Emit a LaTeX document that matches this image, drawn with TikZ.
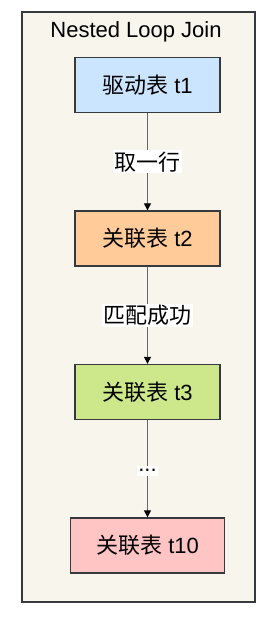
\documentclass[tikz,border=0pt]{standalone}
\usepackage{fontspec}
\setmainfont{Liberation Sans}
\newfontfamily\cjk{Noto Sans CJK SC}
\usetikzlibrary{arrows.meta}
\definecolor{framefill}{HTML}{F7F5EC}
\definecolor{framedraw}{HTML}{36393D}
\definecolor{cblue}{HTML}{CCE5FF}
\definecolor{corange}{HTML}{FFCC99}
\definecolor{cgreen}{HTML}{CDE88A}
\definecolor{cpink}{HTML}{FFC4C4}
\definecolor{edgegray}{HTML}{666666}
\begin{document}
\begin{tikzpicture}[x=1pt,y=1pt,
  tbox/.style={draw=framedraw, line width=1.3pt, minimum height=55pt, minimum width=145pt, inner sep=0pt, font=\fontsize{22}{25}\selectfont},
  elabel/.style={fill=white, inner sep=1.5pt, font=\fontsize{22}{25}\selectfont},
  conn/.style={draw=edgegray, line width=1pt, -{Triangle[length=7pt,width=7pt,fill=black,color=black]}}
]
\useasboundingbox (0,0) rectangle (272,-618);
\node[draw=framedraw, fill=framefill, line width=1.6pt, minimum width=233pt, minimum height=590pt, inner sep=0pt] (frame) at (138.5,-307) {};
\node[font=\fontsize{22}{25}\selectfont] (title) at (136,-32) {Nested Loop Join};
\node[tbox, fill=cblue] (t1) at (147.5,-85) {{\cjk 驱动表} t1};
\node[tbox, fill=corange] (t2) at (147.5,-238.5) {{\cjk 关联表} t2};
\node[tbox, fill=cgreen] (t3) at (147.5,-392) {{\cjk 关联表} t3};
\node[tbox, fill=cpink, minimum width=154pt] (t10) at (147.5,-545.5) {{\cjk 关联表} t10};
\draw[conn] (t1) -- node[elabel] (l1) {\cjk 取一行} (t2);
\draw[conn] (t2) -- node[elabel] (l2) {\cjk 匹配成功} (t3);
\draw[conn] (t3) -- node[elabel, pos=0.52, inner ysep=4pt] (l3) {...} (t10);
\end{tikzpicture}
\end{document}
